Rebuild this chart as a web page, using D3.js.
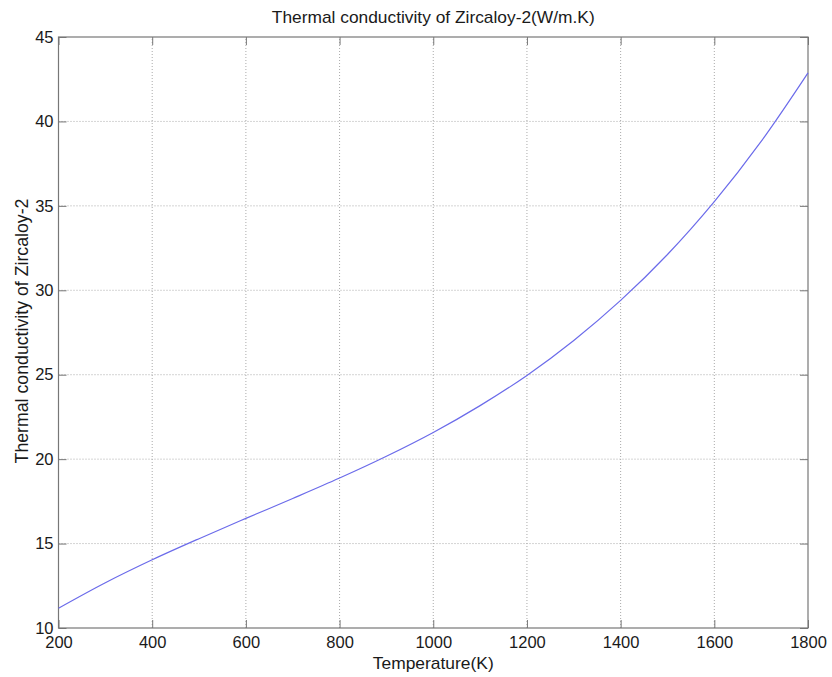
<!DOCTYPE html>
<html>
<head>
<meta charset="utf-8">
<script src="https://cdn.jsdelivr.net/npm/d3@7"></script>
<style>
  body { margin: 0; background: #fff; }
  text { font-family: "Liberation Sans", Arial, sans-serif; fill: #1a1a1a; }
</style>
</head>
<body>
<div id="chart"></div>
<script>
// Chart size and plot box.
var width = 832;
var height = 677;
var margin = { top: 37, right: 24, bottom: 49, left: 58.5 };

// Temperature (K) and conductivity.
var temperatures = [200, 300, 400, 500, 600, 700, 800, 900, 1000, 1100, 1200, 1300, 1400, 1500, 1600, 1700, 1800];
var conductivity = [11.17, 12.68, 14.04, 15.29, 16.49, 17.67, 18.88, 20.17, 21.58, 23.17, 24.96, 27.03, 29.40, 32.12, 35.25, 38.82, 42.88];

var xTicks = [200, 400, 600, 800, 1000, 1200, 1400, 1600, 1800];
var yTicks = [10, 15, 20, 25, 30, 35, 40, 45];

var titleText = "Thermal conductivity of Zircaloy-2(W/m.K)";
var xLabel = "Temperature(K)";
var yLabel = "Thermal conductivity of Zircaloy-2";

var svg = d3.select("#chart").append("svg")
    .attr("width", width)
    .attr("height", height);

var x = d3.scaleLinear().domain([200, 1800]).range([margin.left, width - margin.right]);
var y = d3.scaleLinear().domain([10, 45]).range([height - margin.bottom, margin.top]);

var axisColor = "#777";

// Shrink or grow a text so it spans about the width seen in the reference.
function fitText(sel, target, start) {
  sel.style("font-size", start + "px");
  var w = sel.node().getComputedTextLength();
  sel.style("font-size", (start * target / w).toFixed(2) + "px");
}

// Dotted grid lines.
svg.append("g").selectAll("line")
    .data(xTicks.slice(1, -1))
    .enter().append("line")
    .attr("x1", function(d) { return x(d); })
    .attr("x2", function(d) { return x(d); })
    .attr("y1", y(10))
    .attr("y2", y(45))
    .attr("stroke", "#aaa")
    .attr("stroke-dasharray", "1,2");

svg.append("g").selectAll("line")
    .data(yTicks.slice(1, -1))
    .enter().append("line")
    .attr("x1", x(200))
    .attr("x2", x(1800))
    .attr("y1", function(d) { return y(d); })
    .attr("y2", function(d) { return y(d); })
    .attr("stroke", "#aaa")
    .attr("stroke-dasharray", "1,2");

// Axes with inward ticks, MATLAB style.
function styleAxis(g) {
  g.select(".domain").remove();
  g.selectAll("line").attr("stroke", axisColor);
  g.selectAll("text").style("font-size", "16.5px").attr("fill", "#1a1a1a");
}

svg.append("g")
    .attr("transform", "translate(0," + y(10) + ")")
    .call(d3.axisBottom(x).tickValues(xTicks).tickSizeInner(-8).tickSizeOuter(0).tickPadding(8).tickFormat(d3.format("d")))
    .call(styleAxis);

svg.append("g")
    .attr("transform", "translate(0," + y(45) + ")")
    .call(d3.axisTop(x).tickValues(xTicks).tickSizeInner(-8).tickSizeOuter(0).tickFormat(""))
    .call(styleAxis);

svg.append("g")
    .attr("transform", "translate(" + x(200) + ",0)")
    .call(d3.axisLeft(y).tickValues(yTicks).tickSizeInner(-8).tickSizeOuter(0).tickPadding(5).tickFormat(d3.format("d")))
    .call(styleAxis);

svg.append("g")
    .attr("transform", "translate(" + x(1800) + ",0)")
    .call(d3.axisRight(y).tickValues(yTicks).tickSizeInner(-8).tickSizeOuter(0).tickFormat(""))
    .call(styleAxis);

// Plot box.
svg.append("rect")
    .attr("x", x(200))
    .attr("y", y(45))
    .attr("width", x(1800) - x(200))
    .attr("height", y(10) - y(45))
    .attr("fill", "none")
    .attr("stroke", axisColor)
    .attr("stroke-width", 1.2);

// The curve.
var line = d3.line()
    .x(function(d, i) { return x(temperatures[i]); })
    .y(function(d) { return y(d); })
    .curve(d3.curveCatmullRom);

svg.append("path")
    .datum(conductivity)
    .attr("d", line)
    .attr("fill", "none")
    .attr("stroke", "#6b6bea")
    .attr("stroke-width", 1.2);

// Titles.
svg.append("text")
    .attr("x", (x(200) + x(1800)) / 2)
    .attr("y", 23)
    .attr("text-anchor", "middle")
    .text(titleText)
    .call(fitText, 323, 16);

svg.append("text")
    .attr("x", (x(200) + x(1800)) / 2)
    .attr("y", 669)
    .attr("text-anchor", "middle")
    .text(xLabel)
    .call(fitText, 121, 16);

svg.append("text")
    .attr("transform", "translate(28," + 331 + ") rotate(-90)")
    .attr("text-anchor", "middle")
    .text(yLabel)
    .call(fitText, 265, 16);
</script>
</body>
</html>
